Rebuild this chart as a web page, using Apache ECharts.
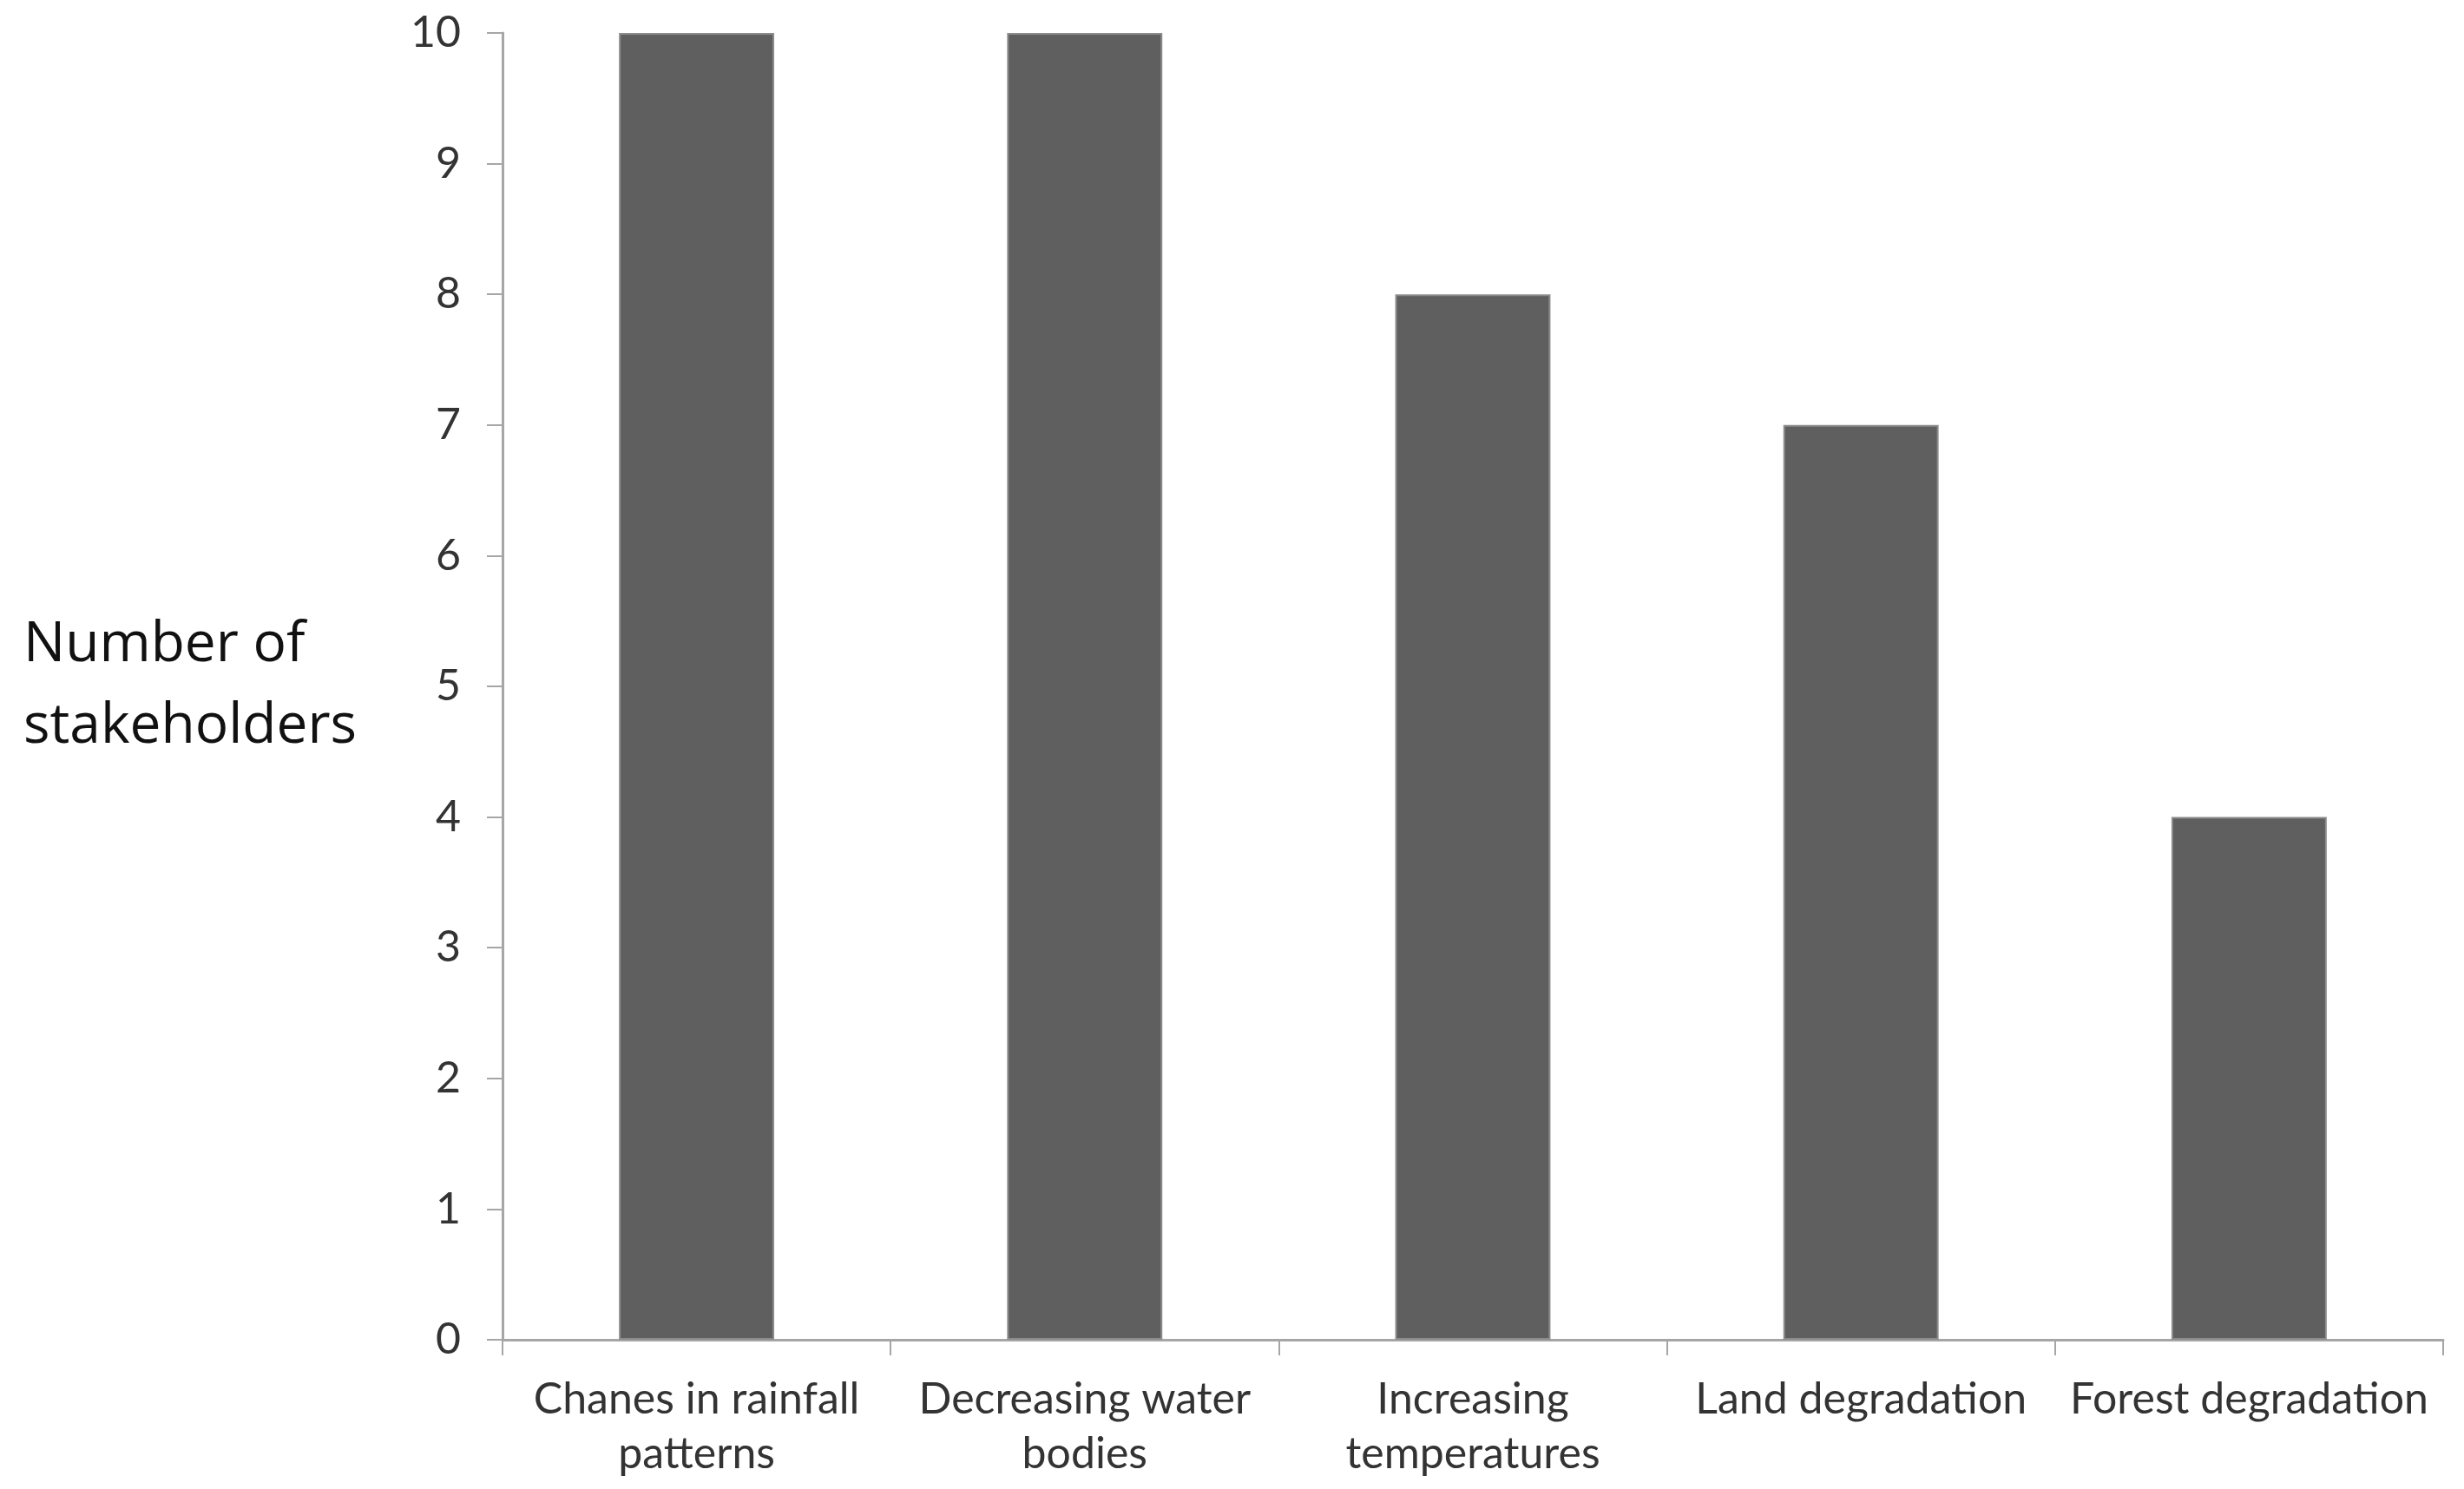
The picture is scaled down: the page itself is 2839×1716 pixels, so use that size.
<!DOCTYPE html>
<html>
<head>
<meta charset="utf-8">
<style>
html,body{margin:0;padding:0;background:#fff;}
#chart{width:2839px;height:1716px;}
</style>
<script src="https://cdn.jsdelivr.net/npm/echarts@6/dist/echarts.min.js"></script>
</head>
<body>
<div id="chart"></div>
<script>
const categories = [
  "Chanes in rainfall\npatterns",
  "Decreasing water\nbodies",
  "Increasing\ntemperatures",
  "Land degradation",
  "Forest degradation"
];
const stakeholderCounts = [10, 10, 8, 7, 4];
const yAxisTitle = "Number of\nstakeholders";

const chart = echarts.init(document.getElementById('chart'), null, {renderer: 'canvas'});
const labelFont = "Lato, 'Open Sans', 'Liberation Sans', sans-serif";
chart.setOption({
  backgroundColor: '#ffffff',
  animation: false,
  grid: {left: 579, right: 24, top: 38, bottom: 172, containLabel: false},
  xAxis: {
    type: 'category',
    data: categories,
    boundaryGap: true,
    axisLine: {show: true, lineStyle: {color: '#a6a6a6', width: 3}},
    axisTick: {show: true, alignWithLabel: false, length: 18, lineStyle: {color: '#a6a6a6', width: 2}},
    axisLabel: {
      interval: 0,
      margin: 37,
      color: '#333333',
      fontSize: 50,
      lineHeight: 63,
      fontFamily: labelFont
    },
    splitLine: {show: false}
  },
  yAxis: {
    type: 'value',
    min: 0,
    max: 10,
    interval: 1,
    name: yAxisTitle,
    nameLocation: 'middle',
    nameRotate: 0,
    nameGap: 552,
    nameTextStyle: {
      align: 'left',
      verticalAlign: 'middle',
      color: '#111111',
      fontSize: 64,
      lineHeight: 94,
      padding: [36, 0, 0, 0],
      fontFamily: "'Open Sans', 'Noto Sans', sans-serif"
    },
    axisLine: {show: true, lineStyle: {color: '#a6a6a6', width: 3}},
    axisTick: {show: true, length: 18, lineStyle: {color: '#a6a6a6', width: 2}},
    axisLabel: {
      margin: 48,
      color: '#333333',
      fontSize: 50,
      fontFamily: labelFont
    },
    splitLine: {show: false}
  },
  series: [{
    type: 'bar',
    data: stakeholderCounts,
    barWidth: '40%',
    itemStyle: {color: '#5f5f5f', borderColor: '#8c8c8c', borderWidth: 2}
  }]
});
</script>
</body>
</html>
